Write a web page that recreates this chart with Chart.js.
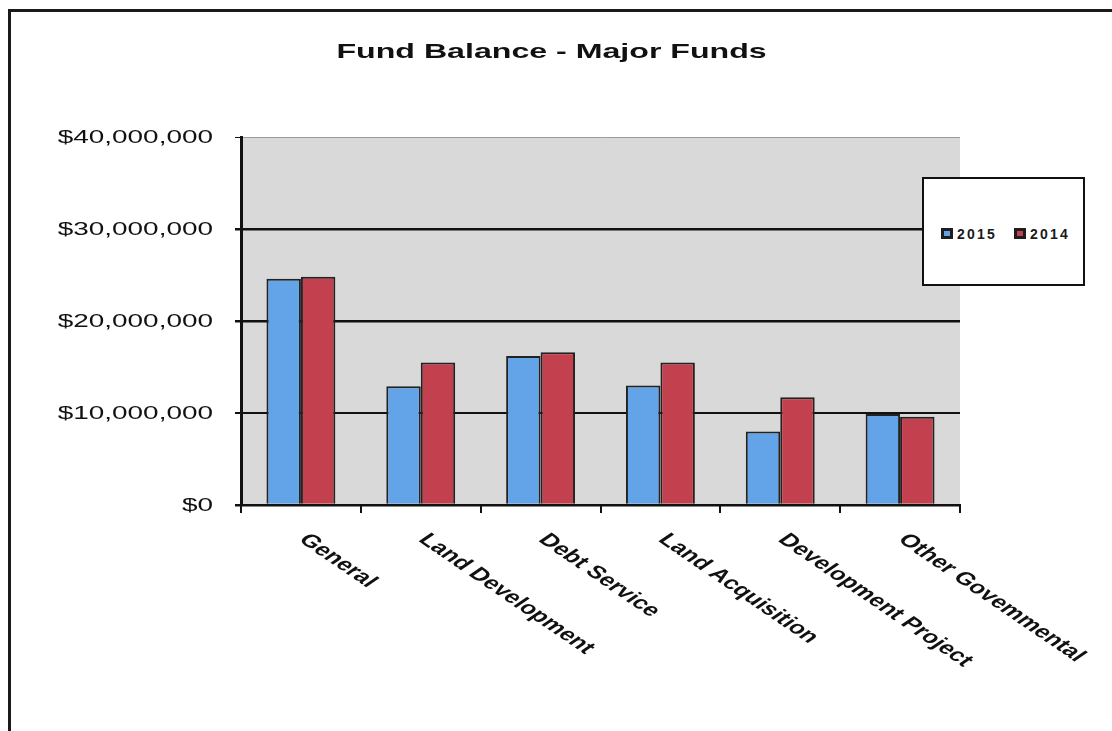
<!DOCTYPE html>
<html>
<head>
<meta charset="utf-8">
<script src="https://cdn.jsdelivr.net/npm/chart.js@4.4.1/dist/chart.umd.min.js"></script>
<style>
    body { margin: 0; background: #fff; }
    #wrap { position: relative; width: 1112px; height: 731px; overflow: hidden; }
    #frame {
        position: absolute; left: 8px; top: 9px; width: 1120px; height: 740px;
        border-top: 3px solid #1a1a1a; border-left: 3px solid #1a1a1a;
    }
    #chart { position: absolute; left: 0; top: 0; }
    #title {
        position: absolute; left: 0; top: 40px; width: 1104px; text-align: center;
        font: bold 21px/21px "Liberation Sans", Arial, sans-serif; color: #111;
    }
    #title span { display: inline-block; transform: scaleX(1.53); }
    #legend {
        position: absolute; left: 922px; top: 177px; width: 163px; height: 109px;
        box-sizing: border-box; border: 2px solid #111; background: #fff;
        display: flex; align-items: center; padding: 4px 0 0 17px;
        font: bold 14px "Liberation Sans", Arial, sans-serif; color: #1a1a1a;
    }
    .item { display: flex; align-items: center; margin-right: 17px; }
    .swatch { width: 12px; height: 11px; box-sizing: border-box; border: 3px solid #1e1e1e; margin-right: 4px; }
    .item span { letter-spacing: 2.2px; }
</style>
</head>
<body>
<div id="wrap">
    <div id="frame"></div>
    <canvas id="chart" width="1112" height="731"></canvas>
    <div id="title"><span>Fund Balance - Major Funds</span></div>
    <div id="legend"></div>
</div>
<script>
const categories = ['General', 'Land Development', 'Debt Service', 'Land Acquisition', 'Development Project', 'Other Govemmental'];
const years = ['2015', '2014'];
const fund2015 = [24600000, 12900000, 16200000, 13000000, 8000000, 9900000];
const fund2014 = [24800000, 15500000, 16600000, 15500000, 11700000, 9600000];
const yTicks = [0, 10000000, 20000000, 30000000, 40000000];
const yTickLabels = ['$0', '$10,000,000', '$20,000,000', '$30,000,000', '$40,000,000'];

// the scanned chart is stretched sideways, so text is too
const SX = 1.47;

// grey plot area
const plotBackground = {
    id: 'plotBackground',
    beforeDraw(chart) {
        const { ctx, chartArea: a } = chart;
        ctx.save();
        ctx.fillStyle = '#d9d9d9';
        ctx.fillRect(a.left, a.top, a.right - a.left, a.bottom - a.top);
        ctx.restore();
    }
};

// axis labels drawn with the sideways stretch, x labels turned clockwise
const stretchedLabels = {
    id: 'stretchedLabels',
    afterDraw(chart) {
        const { ctx, scales: { x, y } } = chart;
        ctx.save();
        ctx.fillStyle = '#111';

        ctx.font = '19px "Liberation Sans", Arial, sans-serif';
        ctx.textAlign = 'right';
        ctx.textBaseline = 'middle';
        y.ticks.forEach(t => {
            ctx.save();
            ctx.translate(y.right - 28, y.getPixelForValue(t.value) + 1);
            ctx.scale(SX, 1);
            ctx.fillText(t.label, 0, 0);
            ctx.restore();
        });

        ctx.font = 'bold 18px "Liberation Sans", Arial, sans-serif';
        ctx.textAlign = 'left';
        x.ticks.forEach((t, i) => {
            ctx.save();
            ctx.translate(x.getPixelForValue(i) + 2, x.top + 32);
            ctx.scale(SX, 1);
            ctx.rotate(Math.PI / 4);
            ctx.fillText(categories[i], 0, 0);
            ctx.restore();
        });
        ctx.restore();
    }
};

const barData = {
    labels: categories,
    datasets: [
        {
            label: years[0],
            data: fund2015,
            backgroundColor: '#63a3e8',
            borderColor: '#222',
            borderWidth: 2,
            categoryPercentage: 0.575,
            barPercentage: 1,
        },
        {
            label: years[1],
            data: fund2014,
            backgroundColor: '#c3404f',
            borderColor: '#222',
            borderWidth: 2,
            categoryPercentage: 0.575,
            barPercentage: 1,
        },
    ],
};

const barConfig = {
    type: 'bar',
    data: barData,
    options: {
        responsive: false,
        animation: false,
        layout: {
            padding: { top: 137, right: 152, left: 0, bottom: 0 },
        },
        plugins: {
            legend: { display: false },
            title: { display: false },
            tooltip: { enabled: false },
        },
        scales: {
            y: {
                min: 0,
                max: 40000000,
                afterBuildTicks: scale => {
                    scale.ticks = yTicks.map(v => ({ value: v }));
                },
                afterFit: scale => { scale.width = 241; },
                border: { display: true, color: '#111', width: 3 },
                grid: {
                    color: c => c.tick && c.tick.value === 40000000 ? '#9a9a9a' : '#111',
                    lineWidth: c => c.tick && c.tick.value === 10000000 ? 2 : (c.tick && c.tick.value === 40000000 ? 1 : 2.5),
                    tickColor: '#111',
                    tickLength: 6,
                },
                ticks: {
                    display: false,
                    callback: v => yTickLabels[yTicks.indexOf(v)],
                },
            },
            x: {
                afterFit: scale => { scale.height = 226; },
                border: { display: true, color: '#111', width: 2 },
                grid: {
                    offset: true,
                    drawOnChartArea: false,
                    color: '#111',
                    lineWidth: 2,
                    tickLength: 8,
                },
                ticks: { display: false },
            },
        },
    },
    plugins: [plotBackground, stretchedLabels],
};

const barCtx = document.getElementById('chart').getContext('2d');
const fundChart = new Chart(barCtx, barConfig);

// legend box, built from the datasets
const legendBox = document.getElementById('legend');
fundChart.data.datasets.forEach(ds => {
    const item = document.createElement('div');
    item.className = 'item';
    const sw = document.createElement('div');
    sw.className = 'swatch';
    sw.style.background = ds.backgroundColor;
    const txt = document.createElement('span');
    txt.textContent = ds.label;
    item.appendChild(sw);
    item.appendChild(txt);
    legendBox.appendChild(item);
});
</script>
</body>
</html>
